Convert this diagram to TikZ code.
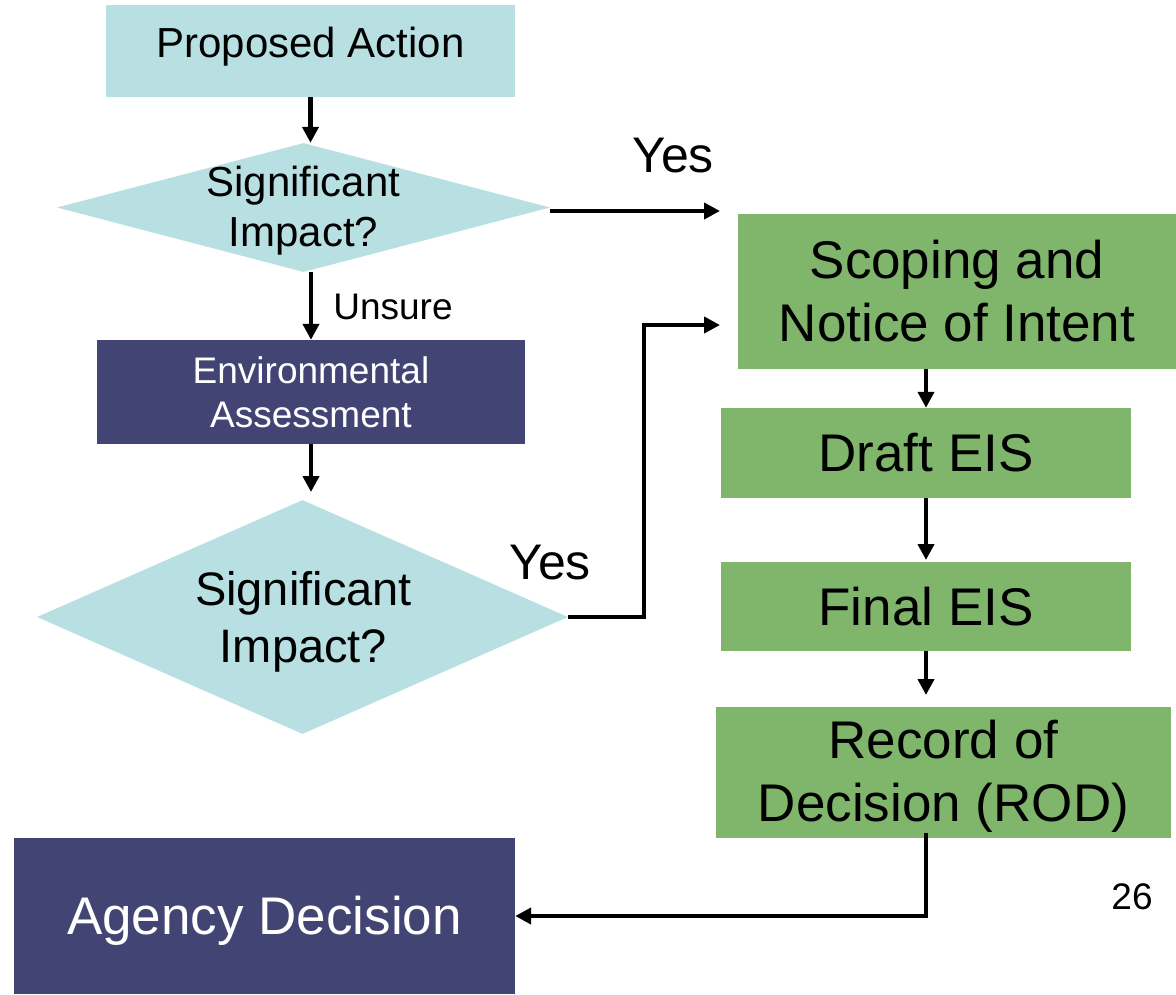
\documentclass[tikz,border=0pt]{standalone}
\usepackage{fontspec}
\setmainfont{Liberation Sans}
\usetikzlibrary{shapes.geometric,arrows.meta,calc}
\definecolor{lblue}{HTML}{B8E0E3}
\definecolor{navy}{HTML}{424473}
\definecolor{lgreen}{HTML}{80B66B}
\tikzset{
  box/.style={rectangle, inner sep=0pt, align=center},
  bluebox/.style={box, fill=lblue},
  navybox/.style={box, fill=navy, text=white},
  greenbox/.style={box, fill=lgreen},
  dmd/.style={diamond, fill=lblue, inner sep=0pt},
  txt/.style={inner sep=0pt, align=center},
  arr/.style={line width=4.2pt, -{Triangle[length=16pt,width=16pt]}},
  fs42/.style={font=\fontsize{42}{50}\selectfont},
  fs47/.style={font=\fontsize{47}{57}\selectfont},
  fs53/.style={font=\fontsize{53}{63}\selectfont},
  fs37/.style={font=\fontsize{37}{44}\selectfont},
}
\begin{document}
\begin{tikzpicture}[x=1pt,y=-1pt]
\useasboundingbox (0,0) rectangle (1176,994);
% left column
\node[bluebox, minimum width=409pt, minimum height=92pt] (pa) at (310.5,51) {};
\node[txt, fs42] (pat) at (310.5,47) {Proposed Action};
\node[dmd, minimum width=493pt, minimum height=129pt] (d1) at (303.5,207.5) {};
\node[txt, fs42] (d1t) at (303.5,211) {Significant\\Impact?};
\node[navybox, minimum width=428pt, minimum height=104pt, fs37] (ea) at (311,392) {Environmental\\Assessment};
\node[dmd, minimum width=531pt, minimum height=234pt] (d2) at (302.5,617) {};
\node[txt, fs47] (d2t) at (303.5,622) {Significant\\Impact?};
\node[navybox, minimum width=501pt, minimum height=156pt] (ag) at (264.5,916) {};
\node[txt, fs53, text=white] (agt) at (264.5,921) {Agency Decision};
% right column
\node[greenbox, minimum width=438pt, minimum height=155pt, fs53] (sc) at (957,291.5) {Scoping and\\Notice of Intent};
\node[greenbox, minimum width=410pt, minimum height=90pt, fs53] (dr) at (926,453) {Draft EIS};
\node[greenbox, minimum width=410pt, minimum height=89pt, fs53] (fi) at (926,606.5) {Final EIS};
\node[greenbox, minimum width=455pt, minimum height=131pt] (rod) at (943.5,772) {};
\node[txt, fs53] (rodt) at (943.5,776) {Record of\\Decision (ROD)};
% labels
\node[txt, fs37] (uns) at (393,307) {Unsure};
\node[txt, font=\fontsize{50}{60}\selectfont] (yes1) at (673,156) {Yes};
\node[txt, font=\fontsize{50}{60}\selectfont] (yes2) at (550,563) {Yes};
\node[txt, fs37] (pg) at (1132,897) {26};
% free ends
\coordinate (t1) at (720,211);
\coordinate (t2) at (720,325);
\coordinate (t3) at (311,492);
\coordinate (t4) at (926,560);
\coordinate (t5) at (926,695);
% connectors
\draw[arr] (pa.south) -- (pa.south |- d1.north);
\draw[arr] (ea.north |- d1.south) -- (ea.north);
\draw[arr] (ea.south) -- (t3);
\draw[arr] (d1.east |- t1) -- (t1);
\draw[arr] (d2.east) -| ($(d2.east)!0.5!(d2.east -| t2)$) |- (t2);
\draw[arr] (dr.north |- sc.south) -- (dr.north);
\draw[arr] (dr.south) -- (t4);
\draw[arr] (fi.south) -- (t5);
\draw[arr] ($(fi.south |- rod.south)+(0,-5)$) |- (ag.east);
\end{tikzpicture}
\end{document}
